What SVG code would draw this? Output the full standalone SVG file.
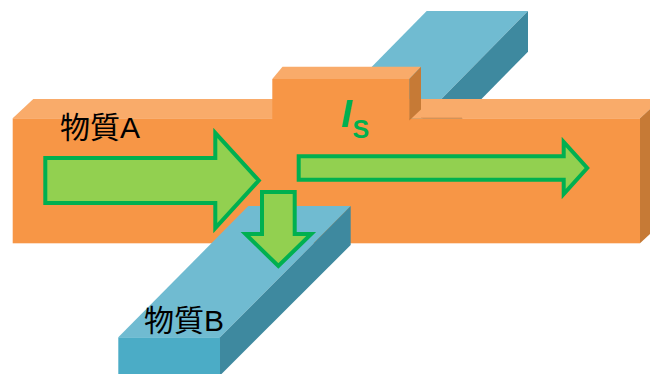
<svg xmlns="http://www.w3.org/2000/svg" width="650" height="374" viewBox="0 0 650 374">
  <style>
    .o-top { fill: #F9AB6A; }
    .o-front { fill: #F79646; }
    .o-side { fill: #C67A36; }
    .b-top { fill: #70BBD1; }
    .b-side { fill: #3E899F; }
    .b-front { fill: #4BACC6; }
    .flow { fill: #92D050; stroke: #00B050; stroke-width: 4; stroke-linejoin: miter; stroke-miterlimit: 10; }
    .label { font-family: "Liberation Sans", "Noto Sans CJK JP", sans-serif; font-size: 30px; fill: #000000; }
    .flux { font-family: "Liberation Sans", Arial, sans-serif; font-weight: bold; fill: #00B050; }
  </style>

  <!-- material B, part behind material A -->
  <g id="bar-b-back">
    <polygon class="b-top" points="426.7,11 528,11 410.9,130 309.6,130"/>
    <polygon class="b-side" points="528,11 528,51.7 451,130 410.9,130"/>
  </g>

  <!-- material A: main block -->
  <g id="bar-a">
    <polygon class="o-top" points="12.7,118.3 33.3,99 661,99 640,118.3"/>
    <rect class="o-front" x="12.7" y="118.3" width="627.3" height="125"/>
    <polygon class="o-side" points="640,118.3 661,99 661,224 640,243.3"/>
    <line x1="421" y1="117.6" x2="462" y2="117.6" stroke="#E9995A" stroke-width="1.2" opacity="0.7"/>
  </g>

  <!-- raised section on top of material A -->
  <g id="bump">
    <polygon class="o-top" points="272.3,79 282.5,66.7 421,66.7 409.3,79"/>
    <rect class="o-front" x="272.3" y="79" width="137" height="42"/>
    <polygon class="o-side" points="409.3,79 421,66.7 421,109.5 409.3,120.5"/>
  </g>

  <!-- material B, part in front of material A -->
  <g id="bar-b-front">
    <polygon class="b-top" points="248.3,206 350.7,206 220,337.3 118.3,337.3"/>
    <polygon class="b-side" points="350.7,206 350.7,245 221.5,374 220,374 220,337.3"/>
    <rect class="b-front" x="118.3" y="337.3" width="101.7" height="36.7"/>
  </g>

  <!-- flow arrows -->
  <g id="connectors">
    <path id="flow-in" class="flow" d="M45.3,158 H215.3 V133 L258.8,180.5 L215.3,228 V203 H45.3 Z"/>
    <path id="flow-through" class="flow" d="M298.7,156.3 H563.7 V142 L587.2,168 L563.7,194 V179.7 H298.7 Z"/>
    <path id="flow-down" class="flow" d="M262,192 H294.7 V234 H311.2 L278.35,266 L245.5,234 H262 Z"/>
  </g>

  <!-- labels -->
  <g id="label-a">
    <text class="label" x="60" y="137.5">物質A</text>
  </g>
  <g id="label-b">
    <text class="label" x="144" y="331">物質B</text>
  </g>
  <g id="label-is">
    <text class="flux" x="341" y="127.3" font-size="39" font-style="italic">I</text>
    <text class="flux" x="352.5" y="138.3" font-size="25">S</text>
  </g>
</svg>
